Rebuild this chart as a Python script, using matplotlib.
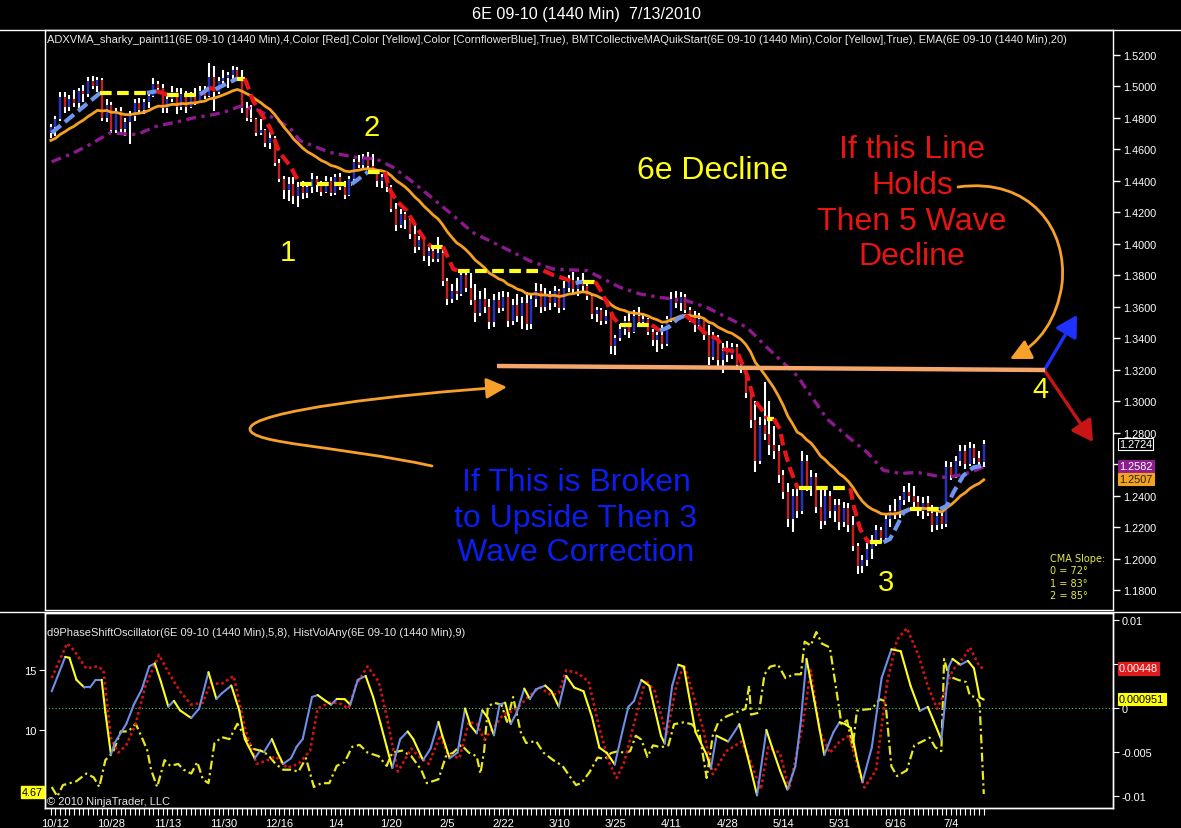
import numpy as np
import matplotlib
matplotlib.use("Agg")
import matplotlib.pyplot as plt
from matplotlib.collections import LineCollection
from matplotlib.path import Path
from matplotlib.patches import FancyArrowPatch
from matplotlib.lines import Line2D

plt.rcParams['font.family'] = ['Liberation Sans', 'DejaVu Sans']

# ---------------- data ----------------
date_labels = ['10/12', '10/28', '11/13', '11/30', '12/16', '1/4', '1/20', '2/5', '2/22',
               '3/10', '3/25', '4/11', '4/28', '5/14', '5/31', '6/16', '7/4']

closes = [1.4740, 1.4790, 1.4930, 1.4870, 1.4920, 1.4890, 1.4970, 1.4950, 1.5030, 1.5000, 1.5040,
          1.4800, 1.4880, 1.4720, 1.4840, 1.4730, 1.4770, 1.4810, 1.4890, 1.4850, 1.4900,
          1.4940, 1.5010, 1.4990, 1.4860, 1.4920, 1.4960, 1.4870, 1.4950, 1.4870, 1.4940,
          1.4900, 1.4970, 1.4940, 1.5060, 1.4960, 1.5030, 1.5050, 1.5070, 1.5100, 1.5060,
          1.4860, 1.4800, 1.4790, 1.4700, 1.4720, 1.4640, 1.4670, 1.4510, 1.4410, 1.4340,
          1.4380, 1.4300, 1.4360, 1.4320, 1.4360, 1.4410, 1.4370, 1.4330, 1.4400, 1.4320,
          1.4420, 1.4360, 1.4310, 1.4410, 1.4520, 1.4500, 1.4540, 1.4490, 1.4460, 1.4400,
          1.4420, 1.4360, 1.4220, 1.4120, 1.4190, 1.4150, 1.4060, 1.3980, 1.4020, 1.3920,
          1.3950, 1.3900, 1.3940, 1.3760, 1.3650, 1.3700, 1.3680, 1.3800, 1.3720, 1.3640,
          1.3560, 1.3650, 1.3600, 1.3500, 1.3640, 1.3590, 1.3660, 1.3510, 1.3610, 1.3540,
          1.3620, 1.3490, 1.3650, 1.3700, 1.3600, 1.3680, 1.3620, 1.3700, 1.3590, 1.3720,
          1.3770, 1.3710, 1.3760, 1.3730, 1.3670, 1.3550, 1.3580, 1.3510, 1.3540, 1.3350,
          1.3400, 1.3460, 1.3510, 1.3440, 1.3540, 1.3500, 1.3520, 1.3440, 1.3390, 1.3420,
          1.3360, 1.3520, 1.3650, 1.3620, 1.3660, 1.3580, 1.3540, 1.3480, 1.3520, 1.3420,
          1.3280, 1.3400, 1.3260, 1.3320, 1.3290, 1.3340, 1.3230, 1.3200, 1.3050, 1.2880,
          1.2620, 1.2850, 1.2790, 1.2720, 1.2680, 1.2530, 1.2420, 1.2250, 1.2400, 1.2300,
          1.2620, 1.2460, 1.2520, 1.2330, 1.2240, 1.2400, 1.2300, 1.2340, 1.2230, 1.2320,
          1.2210, 1.2080, 1.1950, 1.1990, 1.2060, 1.2120, 1.2180, 1.2130, 1.2250, 1.2300,
          1.2280, 1.2370, 1.2420, 1.2400, 1.2360, 1.2300, 1.2350, 1.2290, 1.2210, 1.2270,
          1.2220, 1.2580, 1.2530, 1.2620, 1.2680, 1.2600, 1.2700, 1.2640, 1.2610, 1.2724]

first_open = 1.4700
opens = [first_open] + closes[:-1]

highs = [1.4760, 1.4810, 1.4960, 1.4965, 1.4945, 1.4975, 1.4990, 1.5005, 1.5060, 1.5065, 1.5060,
         1.5050, 1.4920, 1.4900, 1.4860, 1.4870, 1.4800, 1.4840, 1.4920, 1.4925, 1.4920,
         1.4960, 1.5050, 1.5030, 1.5010, 1.4940, 1.5000, 1.4990, 1.4990, 1.4970, 1.4960,
         1.4990, 1.5000, 1.5000, 1.5145, 1.5125, 1.5060, 1.5105, 1.5090, 1.5125, 1.5120,
         1.5105, 1.4900, 1.4880, 1.4800, 1.4790, 1.4730, 1.4710, 1.4680, 1.4540, 1.4430,
         1.4420, 1.4420, 1.4390, 1.4400, 1.4380, 1.4450, 1.4430, 1.4400, 1.4430, 1.4420,
         1.4440, 1.4450, 1.4400, 1.4430, 1.4540, 1.4560, 1.4570, 1.4580, 1.4570, 1.4470,
         1.4440, 1.4430, 1.4370, 1.4260, 1.4220, 1.4200, 1.4170, 1.4120, 1.4050, 1.4030,
         1.3980, 1.3990, 1.4040, 1.3960, 1.3780, 1.3740, 1.3780, 1.3840, 1.3830, 1.3810,
         1.3740, 1.3700, 1.3720, 1.3650, 1.3680, 1.3690, 1.3700, 1.3690, 1.3650, 1.3680,
         1.3660, 1.3690, 1.3680, 1.3750, 1.3740, 1.3720, 1.3700, 1.3730, 1.3710, 1.3760,
         1.3800, 1.3820, 1.3790, 1.3810, 1.3760, 1.3680, 1.3600, 1.3590, 1.3580, 1.3550,
         1.3420, 1.3490, 1.3540, 1.3560, 1.3580, 1.3600, 1.3560, 1.3530, 1.3460, 1.3440,
         1.3480, 1.3540, 1.3690, 1.3700, 1.3690, 1.3680, 1.3600, 1.3570, 1.3560, 1.3530,
         1.3480, 1.3440, 1.3420, 1.3370, 1.3380, 1.3370, 1.3360, 1.3270, 1.3220, 1.3070,
         1.3000, 1.2900, 1.3120, 1.3000, 1.2840, 1.2720, 1.2560, 1.2480, 1.2440, 1.2480,
         1.2680, 1.2660, 1.2560, 1.2540, 1.2450, 1.2440, 1.2430, 1.2380, 1.2380, 1.2360,
         1.2350, 1.2270, 1.2100, 1.2020, 1.2100, 1.2150, 1.2210, 1.2200, 1.2280, 1.2340,
         1.2380, 1.2400, 1.2460, 1.2480, 1.2460, 1.2400, 1.2390, 1.2400, 1.2340, 1.2300,
         1.2300, 1.2620, 1.2610, 1.2650, 1.2720, 1.2720, 1.2740, 1.2730, 1.2680, 1.2750]

lows = [1.4670, 1.4685, 1.4780, 1.4830, 1.4840, 1.4870, 1.4860, 1.4900, 1.4930, 1.4980, 1.4960,
        1.4780, 1.4770, 1.4700, 1.4700, 1.4700, 1.4680, 1.4630, 1.4780, 1.4830, 1.4820,
        1.4860, 1.4930, 1.4970, 1.4830, 1.4830, 1.4900, 1.4820, 1.4850, 1.4830, 1.4860,
        1.4880, 1.4890, 1.4920, 1.4930, 1.4840, 1.4950, 1.5000, 1.4990, 1.5040, 1.5030,
        1.4830, 1.4780, 1.4770, 1.4680, 1.4690, 1.4610, 1.4600, 1.4490, 1.4390, 1.4280,
        1.4270, 1.4250, 1.4230, 1.4280, 1.4290, 1.4320, 1.4330, 1.4300, 1.4320, 1.4300,
        1.4310, 1.4340, 1.4280, 1.4300, 1.4400, 1.4480, 1.4470, 1.4470, 1.4440, 1.4360,
        1.4350, 1.4330, 1.4200, 1.4080, 1.4100, 1.4090, 1.4030, 1.3940, 1.3960, 1.3890,
        1.3860, 1.3880, 1.3880, 1.3730, 1.3610, 1.3620, 1.3640, 1.3670, 1.3690, 1.3610,
        1.3500, 1.3540, 1.3560, 1.3460, 1.3470, 1.3560, 1.3570, 1.3470, 1.3480, 1.3500,
        1.3460, 1.3450, 1.3460, 1.3600, 1.3560, 1.3570, 1.3580, 1.3600, 1.3560, 1.3580,
        1.3690, 1.3680, 1.3670, 1.3700, 1.3640, 1.3520, 1.3500, 1.3480, 1.3490, 1.3300,
        1.3290, 1.3380, 1.3420, 1.3400, 1.3430, 1.3470, 1.3470, 1.3420, 1.3350, 1.3310,
        1.3330, 1.3350, 1.3500, 1.3590, 1.3570, 1.3560, 1.3500, 1.3440, 1.3460, 1.3390,
        1.3230, 1.3260, 1.3220, 1.3180, 1.3250, 1.3270, 1.3200, 1.3180, 1.3020, 1.2830,
        1.2550, 1.2600, 1.2750, 1.2660, 1.2630, 1.2480, 1.2380, 1.2200, 1.2170, 1.2260,
        1.2280, 1.2430, 1.2400, 1.2290, 1.2190, 1.2210, 1.2260, 1.2230, 1.2180, 1.2200,
        1.2170, 1.2050, 1.1900, 1.1910, 1.1950, 1.2000, 1.2080, 1.2100, 1.2120, 1.2200,
        1.2250, 1.2260, 1.2340, 1.2360, 1.2330, 1.2270, 1.2250, 1.2270, 1.2170, 1.2180,
        1.2190, 1.2200, 1.2500, 1.2510, 1.2590, 1.2570, 1.2590, 1.2600, 1.2570, 1.2580]

EMA_PERIOD = 20
EMA_START = 1.4655
EMA_LAST_LABEL = 1.2507

adx_x = [0.2, 10.6, 20.6, 22.7, 25.0, 32.0, 34.0, 35.3, 40.0, 41.6, 43.4, 47.0, 49.0, 51.3, 53.4,
         64.5, 68.0, 71.6, 72.6, 74.1, 76.3, 78.4, 80.6, 81.6, 84.1, 84.8, 86.3, 87.3, 105.6,
         107.7, 109.9, 112.5, 114.0, 116.7, 117.7, 119.2, 120.6, 122.0, 128.8, 130.6, 132.5,
         134.3, 136.0, 138.0, 140.0, 142.9, 144.3, 147.2, 149.3, 150.7, 152.9, 153.5, 155.0,
         156.3, 157.0, 158.5, 159.9, 160.3, 171.4, 172.1, 173.5, 175.0, 175.6, 178.5, 179.9,
         181.4, 182.8, 184.2, 190.6, 192.1, 193.5, 195.6, 197.8, 200.0]
adx_y = [1.4703, 1.4957, 1.4957, 1.4967, 1.4946, 1.4946, 1.4988, 1.4980, 1.5048, 1.5048, 1.4904,
         1.4734, 1.4580, 1.4494, 1.4378, 1.4378, 1.4455, 1.4455, 1.4346, 1.4272, 1.4209, 1.4103,
         1.4007, 1.3980, 1.3980, 1.3933, 1.3838, 1.3828, 1.3828, 1.3800, 1.3779, 1.3750, 1.3758,
         1.3758, 1.3711, 1.3626, 1.3531, 1.3483, 1.3483, 1.3446, 1.3470, 1.3520, 1.3545, 1.3500,
         1.3436, 1.3394, 1.3330, 1.3309, 1.3160, 1.3010, 1.2928, 1.2888, 1.2888, 1.2822, 1.2716,
         1.2568, 1.2462, 1.2446, 1.2446, 1.2335, 1.2187, 1.2113, 1.2103, 1.2103, 1.2124, 1.2208,
         1.2293, 1.2314, 1.2314, 1.2335, 1.2420, 1.2526, 1.2579, 1.2590]

cma_x = [0.2, 4.9, 8.4, 12.7, 15.2, 18.4, 22.7, 27.7, 30.6, 34.9, 37.7, 40.6, 44.1, 47.7, 51.3,
         53.4, 59.8, 65.5, 69.8, 73.4, 77.7, 82.0, 86.3, 90.4, 94.8, 99.1, 102.7, 107.7, 114.9,
         118.5, 122.0, 126.3, 130.6, 136.3, 140.6, 144.9, 149.2, 153.5, 160.0, 166.4, 171.4,
         175.0, 178.5, 182.1, 185.7, 191.6, 194.3, 197.1, 200.0]
cma_y = [1.4519, 1.4576, 1.4629, 1.4703, 1.4698, 1.4692, 1.4745, 1.4777, 1.4798, 1.4819, 1.4840,
         1.4872, 1.4851, 1.4798, 1.4734, 1.4653, 1.4579, 1.4547, 1.4537, 1.4484, 1.4388, 1.4283,
         1.4177, 1.4071, 1.4007, 1.3944, 1.3890, 1.3838, 1.3828, 1.3775, 1.3722, 1.3680, 1.3658,
         1.3637, 1.3595, 1.3531, 1.3468, 1.3341, 1.3160, 1.2886, 1.2760, 1.2674, 1.2560, 1.2540,
         1.2547, 1.2515, 1.2526, 1.2547, 1.2582]

osc_x = [0.2, 3.1, 4.0, 5.5, 7.2, 8.4, 9.6, 10.9, 11.7, 12.9, 13.7, 16.2, 17.8, 19.5, 21.1, 22.3,
         23.6, 25.2, 26.4, 27.7, 30.1, 31.8, 33.8, 35.5, 36.7, 38.7, 40.4, 41.6, 43.7, 44.9, 45.7,
         47.4, 48.6, 49.8, 51.5, 52.7, 54.0, 56.0, 57.2, 58.9, 60.1, 61.3, 63.0, 64.2, 65.8, 67.5,
         69.1, 70.7, 72.0, 73.2, 74.9, 76.5, 77.7, 79.8, 81.4, 83.1, 83.9, 85.5, 87.2, 88.8, 90.0,
         91.3, 92.5, 93.7, 95.0, 96.2, 97.4, 98.6, 99.9, 101.5, 102.7, 104.0, 106.0, 107.3, 108.9,
         110.5, 112.2, 114.2, 116.0, 117.6, 119.2, 120.9, 122.5, 123.8, 125.0, 126.6, 128.3, 130.8,
         131.6, 133.2, 134.5, 135.7, 138.2, 140.6, 141.5, 142.7, 145.2, 147.6, 149.7, 151.4, 153.4,
         154.6, 156.3, 157.9, 159.6, 160.8, 162.0, 163.7, 165.8, 167.8, 169.1, 170.3, 171.5, 172.8,
         174.0, 176.0, 178.1, 180.2, 182.2, 184.3, 186.3, 188.0, 189.2, 190.9, 192.5, 193.3, 195.0,
         196.6, 197.9, 199.1, 200.0]
osc_y = [0.00190, 0.00581, 0.00570, 0.00320, 0.00233, 0.00233, 0.00320, 0.00320, -0.00049,
         -0.00528, -0.00397, -0.00180, 0.00038, 0.00212, 0.00473, 0.00507, 0.00299, 0.00016,
         0.00081, -0.00027, -0.00114, -0.00006, 0.00407, 0.00103, 0.00168, 0.00255, -0.00027,
         -0.00354, -0.00571, -0.00484, -0.00500, -0.00354, -0.00506, -0.00636, -0.00571, -0.00440,
         -0.00354, 0.00125, 0.00147, 0.00081, 0.00038, 0.00103, 0.00100, 0.00038, 0.00320, 0.00364,
         0.00125, -0.00180, -0.00440, -0.00680, -0.00354, -0.00267, -0.00354, -0.00593, -0.00462,
         -0.00158, -0.00310, -0.00571, -0.00506, -0.00006, -0.00201, -0.00288, -0.00027, -0.00114,
         -0.00310, 0.00038, 0.00060, -0.00180, -0.00050, 0.00220, 0.00103, 0.00212, 0.00255,
         0.00190, 0.00016, 0.00364, 0.00233, 0.00190, -0.00100, -0.00450, -0.00511, -0.00642,
         -0.00272, 0.00012, 0.00078, 0.00318, 0.00252, -0.00315, -0.00403, 0.00252, 0.00492,
         0.00470, -0.00272, -0.00533, -0.00686, -0.00315, -0.00381, -0.00184, -0.00621, -0.00992,
         -0.00250, -0.00446, -0.00708, -0.00926, -0.00664, -0.00141, 0.00558, 0.00078, -0.00533,
         -0.00272, -0.00162, -0.00184, -0.00228, -0.00577, -0.00839, -0.00446, 0.00340, 0.00667,
         0.00645, 0.00252, -0.00032, 0.00012, -0.00141, -0.00359, 0.00470, 0.00558, 0.00492,
         0.00536, 0.00450, 0.00121, 0.000951]

sig_x = [0.2, 3.5, 5.1, 7.6, 10.0, 11.3, 12.9, 14.5, 16.2, 18.2, 20.3, 23.2, 25.2, 27.7, 30.1,
         32.6, 34.2, 36.7, 39.2, 41.6, 44.1, 46.5, 48.2, 50.6, 53.1, 55.6, 57.2, 59.7, 61.7, 63.8,
         65.4, 67.9, 70.3, 72.0, 74.4, 77.3, 78.9, 81.0, 83.5, 85.1, 87.6, 89.6, 91.3, 92.9, 95.0,
         97.0, 99.5, 102.3, 104.8, 107.3, 108.9, 110.5, 113.0, 115.3, 117.6, 119.7, 121.3, 122.9,
         125.0, 127.5, 129.5, 132.0, 134.1, 135.7, 137.4, 139.8, 141.9, 144.8, 148.1, 150.1, 152.2,
         153.8, 156.3, 158.3, 161.2, 162.9, 164.9, 167.0, 169.1, 171.1, 173.2, 174.4, 176.9, 179.3,
         181.4, 183.5, 186.0, 188.0, 190.0, 191.7, 193.3, 195.8, 197.0, 199.1, 200.0]
sig_y = [0.00342, 0.00734, 0.00647, 0.00450, 0.00473, 0.00430, -0.00354, -0.00506, -0.00420,
         -0.00180, 0.00255, 0.00603, 0.00407, 0.00190, 0.00038, 0.00060, 0.00277, 0.00277, 0.00364,
         -0.00223, -0.00636, -0.00593, -0.00550, -0.00680, -0.00636, -0.00484, -0.00006, 0.00060,
         0.00060, -0.00006, 0.00255, 0.00473, 0.00299, -0.00093, -0.00723, -0.00462, -0.00550,
         -0.00636, -0.00310, -0.00528, -0.00571, -0.00158, -0.00180, -0.00354, -0.00223, -0.00071,
         -0.00027, 0.00125, 0.00233, 0.00147, 0.00170, 0.00430, 0.00395, 0.00300, -0.00228,
         -0.00620, -0.00795, -0.00620, -0.00184, 0.00318, 0.00187, -0.00315, 0.00252, 0.00492,
         0.00209, -0.00228, -0.00752, -0.00490, -0.00381, -0.00620, -0.00926, -0.00446, -0.00511,
         -0.00926, -0.00184, 0.00427, -0.00272, -0.00511, -0.00381, -0.00315, -0.00708, -0.00904,
         -0.00708, 0.00296, 0.00776, 0.00907, 0.00601, 0.00252, -0.00010, 0.00187, 0.00427,
         0.00580, 0.00690, 0.00470, 0.00448]

hv_x = [0.2, 1.4, 2.6, 5.5, 7.6, 9.2, 10.4, 11.7, 13.3, 15.0, 16.6, 18.2, 19.5, 20.7, 21.5, 22.8,
        24.4, 25.6, 27.3, 28.5, 30.1, 31.4, 32.6, 33.8, 35.1, 36.7, 38.3, 40.0, 41.2, 43.3, 44.9,
        46.5, 48.2, 49.8, 51.5, 53.1, 54.7, 56.4, 58.0, 59.7, 61.3, 63.0, 64.6, 66.2, 67.9, 70.3,
        72.0, 73.2, 75.3, 77.3, 79.4, 80.6, 83.1, 84.7, 86.3, 88.0, 89.6, 91.3, 92.1, 92.9, 93.7,
        95.0, 96.6, 97.8, 99.1, 100.7, 101.9, 104.0, 105.6, 107.7, 109.7, 111.4, 112.6, 113.8,
        115.5, 117.2, 118.8, 120.1, 121.7, 123.0, 124.2, 125.4, 126.6, 127.9, 129.1, 130.8, 132.4,
        133.6, 135.7, 137.4, 139.0, 140.6, 141.9, 143.1, 144.8, 147.2, 148.9, 149.7, 150.1, 151.8,
        153.0, 154.2, 155.9, 157.5, 159.2, 160.8, 161.6, 162.9, 164.1, 165.3, 167.0, 168.2, 169.5,
        170.7, 171.9, 172.8, 174.4, 176.0, 177.7, 178.9, 180.2, 181.4, 183.5, 185.1, 186.8, 188.4,
        189.6, 190.9, 191.5, 192.5, 194.6, 196.2, 197.0, 198.3, 199.1, 200.0]
hv_y = [5.25, 4.46, 5.41, 5.73, 6.37, 6.05, 5.25, 7.49, 8.12, 9.88, 9.88, 10.52, 9.40, 8.28, 6.69,
        5.25, 7.49, 7.01, 7.17, 6.69, 6.37, 7.33, 5.89, 5.57, 8.92, 9.40, 9.24, 10.52, 9.72, 8.44,
        8.28, 7.96, 7.17, 6.69, 6.69, 6.53, 7.65, 5.25, 5.57, 5.57, 7.01, 7.33, 8.60, 8.76, 8.12,
        7.81, 7.01, 8.12, 8.28, 7.81, 6.69, 5.57, 5.89, 7.81, 8.12, 8.76, 8.12, 7.81, 6.37, 8.28,
        11.95, 12.27, 12.11, 10.68, 12.75, 9.88, 8.92, 9.08, 8.12, 7.49, 7.01, 6.05, 5.41, 5.60,
        6.50, 7.70, 7.60, 8.08, 8.24, 8.08, 8.24, 9.52, 9.20, 7.76, 8.72, 8.56, 8.72, 10.48, 10.64,
        10.48, 9.84, 6.00, 9.52, 10.64, 11.12, 11.51, 11.76, 13.68, 11.28, 11.44, 14.64, 15.28,
        15.44, 14.32, 14.64, 14.64, 17.36, 17.04, 18.16, 17.20, 16.88, 13.84, 10.48, 10.80, 8.56,
        11.60, 11.70, 11.76, 12.56, 12.40, 6.96, 6.16, 6.64, 8.72, 9.04, 9.36, 8.56, 8.24, 15.92,
        14.48, 14.16, 14.00, 12.88, 12.72, 12.24, 4.67]

title_text = '6E 09-10 (1440 Min)  7/13/2010'
top_indicators = ('ADXVMA_sharky_paint11(6E 09-10 (1440 Min),4,Color [Red],Color [Yellow],'
                  'Color [CornflowerBlue],True), BMTCollectiveMAQuikStart(6E 09-10 (1440 Min),'
                  'Color [Yellow],True), EMA(6E 09-10 (1440 Min),20)')
bottom_indicators = 'd9PhaseShiftOscillator(6E 09-10 (1440 Min),5,8), HistVolAny(6E 09-10 (1440 Min),9)'
cma_text = ['CMA Slope:', '0 = 72°', '1 = 83°', '2 = 85°']

# ---------------- figure layout ----------------
W, H = 1181, 829
fig = plt.figure(figsize=(W / 100, H / 100), dpi=100, facecolor='black')


def P(x, y):
    return (x / W, 1 - y / H)


LEFT, RIGHT = 45, 1113
ax = fig.add_axes([LEFT / W, 1 - 611 / H, (RIGHT - LEFT) / W, (611 - 31) / H], facecolor='black')
ax2 = fig.add_axes([LEFT / W, 1 - 809 / H, (RIGHT - LEFT) / W, (809 - 614) / H], facecolor='black')
ax2r = ax2.twinx()

XMIN, XMAX = -1.24, 227.7
for a in (ax, ax2):
    a.set_xlim(XMIN, XMAX)
ax.set_ylim(1.1673, 1.5356)
ax2.set_ylim(3.5, 19.75)
ax2r.set_ylim(-0.011364, 0.010795)

for a in (ax, ax2, ax2r):
    for s in a.spines.values():
        s.set_color('white')
        s.set_linewidth(1.0)

# ---------------- price panel ----------------
o = np.array(opens)
h = np.array(highs)
l = np.array(lows)
c = np.array(closes)
n = len(c)
idx = np.arange(n)

ax.vlines(idx, l, h, color='white', lw=1.5, zorder=2)
up = c >= o
body_col = np.where(up, '#2630C8', '#C81E1E')
ax.vlines(idx, np.minimum(o, c), np.maximum(o, c), colors=body_col, lw=1.6, zorder=3)

# purple collective MA
ax.plot(cma_x, cma_y, color='#8E188E', lw=2.4, dashes=(3, 1.6, 1, 1.6), zorder=4)

# EMA
alpha = 2.0 / (EMA_PERIOD + 1)
ema = np.empty(n)
ema[0] = EMA_START
for i in range(1, n):
    ema[i] = ema[i - 1] + alpha * (c[i] - ema[i - 1])
ax.plot(idx, ema, color='#F5A021', lw=2.0, zorder=5)

# ADXVMA, coloured by direction
ADX_UP, ADX_DOWN, ADX_FLAT = '#6F95EE', '#E8141A', '#FFFF1E'


def seg_color(dy):
    if abs(dy) < 5e-5:
        return ADX_FLAT
    return ADX_UP if dy > 0 else ADX_DOWN


groups = []
for k in range(len(adx_x) - 1):
    col = seg_color(adx_y[k + 1] - adx_y[k])
    if groups and groups[-1][0] == col:
        groups[-1][1].append(k + 1)
    else:
        groups.append([col, [k, k + 1]])
for col, ks in groups:
    ax.plot([adx_x[k] for k in ks], [adx_y[k] for k in ks], color=col, lw=3.0,
            dashes=(2.8, 1.3), dash_capstyle='butt', zorder=6)

ax.yaxis.tick_right()
yt = np.round(np.arange(1.18, 1.5201, 0.02), 2)
ax.set_yticks(yt)
# 1.2600 is hidden under the value flags in the reference
ax.set_yticklabels(['' if abs(v - 1.26) < 1e-6 else '%.4f' % v for v in yt])
ax.tick_params(axis='y', colors='white', labelsize=7.8, length=5, width=1, pad=2)
ax.set_xticks([])

# ---------------- oscillator panel ----------------
ax2.plot(hv_x, hv_y, color='#E8E81E', lw=1.6, dashes=(4, 1.6, 1, 1.6), zorder=3)
ax2r.axhline(0, color='#5FCF5F', lw=0.8, ls=(0, (1, 2)), zorder=1)
ax2r.plot(sig_x, sig_y, color='#D41414', lw=1.9, ls=(0, (1, 1.1)), zorder=2)
segs, cols = [], []
for k in range(len(osc_x) - 1):
    segs.append([(osc_x[k], osc_y[k]), (osc_x[k + 1], osc_y[k + 1])])
    cols.append('#6F8FE6' if osc_y[k + 1] >= osc_y[k] else '#FFFF1E')
ax2r.add_collection(LineCollection(segs, colors=cols, linewidths=1.5, capstyle='round', zorder=3))

major_pos = [1 + 12 * k for k in range(len(date_labels))]
ax2.set_xticks(major_pos)
ax2.set_xticklabels(date_labels)
ax2.set_xticks(idx, minor=True)
ax2.tick_params(axis='x', which='both', colors='white', length=5, width=0.8, labelsize=8, pad=2)
ax2.set_yticks([10, 15])
ax2.tick_params(axis='y', colors='white', labelsize=8, length=4, pad=2)
ax2r.set_yticks([0.01, 0.005, 0, -0.005, -0.01])
ax2r.set_yticklabels(['0.01', '', '0', '-0.005', '-0.01'])
ax2r.tick_params(axis='y', colors='white', labelsize=7.8, length=4, pad=2)

# ---------------- frame lines ----------------
for yy in (31, 612.5):
    fig.add_artist(Line2D([0, 1], [1 - yy / H] * 2, transform=fig.transFigure, color='white', lw=1.0))

# ---------------- texts ----------------
fig.text(*P(587, 14), title_text, color='white', fontsize=11.6, ha='center', va='center')
fig.text(*P(47, 40), top_indicators, color='#E6E6E6', fontsize=8.0, ha='left', va='center')
fig.text(*P(47, 633), bottom_indicators, color='#E6E6E6', fontsize=8.0, ha='left', va='center')
fig.text(*P(47, 802), '© 2010 NinjaTrader, LLC', color='#E6E6E6', fontsize=8.0, ha='left', va='center')

for s, yy in zip(cma_text, (559, 571.5, 584, 596)):
    fig.text(*P(1050, yy), s, color='#E8E84A', fontsize=7.0, family='DejaVu Sans', ha='left', va='center')

YEL = '#FFFF14'
for s, (xx, yy) in zip(['1', '2', '3', '4'], [(288, 253), (372, 128), (886, 583), (1040, 390)]):
    fig.text(*P(xx, yy), s, color=YEL, fontsize=21, ha='center', va='center')
fig.text(*P(713, 171), '6e Decline', color=YEL, fontsize=23, ha='center', va='center')

for s, yy in zip(['If this Line', 'Holds', 'Then 5 Wave', 'Decline'], (150, 186, 222, 257)):
    fig.text(*P(912, yy), s, color='#E8140F', fontsize=23, ha='center', va='center')
for s, yy in zip(['If This is Broken', 'to Upside Then 3', 'Wave Correction'], (483, 519, 553)):
    fig.text(*P(576, yy), s, color='#0A1EF0', fontsize=23, ha='center', va='center')


# value flags
def flag(x, y, s, fc, tc, ec=None):
    fig.text(*P(x, y), s, color=tc, fontsize=7.8, ha='left', va='center',
             bbox=dict(boxstyle='square,pad=0.12', fc=fc, ec=ec or fc, lw=0.8))


flag(1119, 445, '%.4f' % closes[-1], 'black', 'white', 'white')
flag(1119, 467, '%.4f' % cma_y[-1], '#8E1E8E', 'white')
flag(1119, 480, '%.4f' % EMA_LAST_LABEL, '#F5A21E', '#202020')
flag(1119, 669.5, '%.5f' % sig_y[-1], '#E01B1B', 'white')
flag(1119, 700, '%.6f' % osc_y[-1], '#FFFF10', 'black')
fig.text(*P(43, 793), '%.2f' % hv_y[-1], color='black', fontsize=7.8, ha='right', va='center',
         bbox=dict(boxstyle='square,pad=0.12', fc='#FFFF10', ec='#FFFF10'))

# ---------------- hand-drawn annotation lines ----------------
fig.add_artist(Line2D([P(497, 367)[0], P(1045, 371)[0]], [P(497, 367)[1], P(1045, 371)[1]],
                      transform=fig.transFigure, color='#F5A66A', lw=3.2, solid_capstyle='butt'))

ORANGE = '#F7A02A'
left_curve = Path([P(432, 467), P(340, 447), P(250, 445), P(250, 430),
                   P(250, 412), P(400, 395), P(507, 388)],
                  [Path.MOVETO, Path.CURVE4, Path.CURVE4, Path.CURVE4,
                   Path.CURVE4, Path.CURVE4, Path.CURVE4])
fig.add_artist(FancyArrowPatch(path=left_curve, transform=fig.transFigure, color=ORANGE, lw=2.0,
                               arrowstyle='-|>,head_length=0.7,head_width=0.35', mutation_scale=18))
right_curve = Path([P(958, 188), P(1030, 178), P(1068, 230), P(1062, 285),
                    P(1057, 320), P(1040, 345), P(1010, 360)],
                   [Path.MOVETO, Path.CURVE4, Path.CURVE4, Path.CURVE4,
                    Path.CURVE4, Path.CURVE4, Path.CURVE4])
fig.add_artist(FancyArrowPatch(path=right_curve, transform=fig.transFigure, color=ORANGE, lw=2.0,
                               arrowstyle='-|>,head_length=0.7,head_width=0.35', mutation_scale=18))

fig.add_artist(FancyArrowPatch(P(1045, 370), P(1077, 316), transform=fig.transFigure, color='#1E32FF',
                               lw=2.4, arrowstyle='-|>,head_length=0.7,head_width=0.4', mutation_scale=18,
                               shrinkA=0, shrinkB=0))
fig.add_artist(FancyArrowPatch(P(1045, 372), P(1093, 443), transform=fig.transFigure, color='#C81414',
                               lw=2.4, arrowstyle='-|>,head_length=0.7,head_width=0.4', mutation_scale=18,
                               shrinkA=0, shrinkB=0))

fig.savefig('out.png', dpi=100, facecolor='black')
